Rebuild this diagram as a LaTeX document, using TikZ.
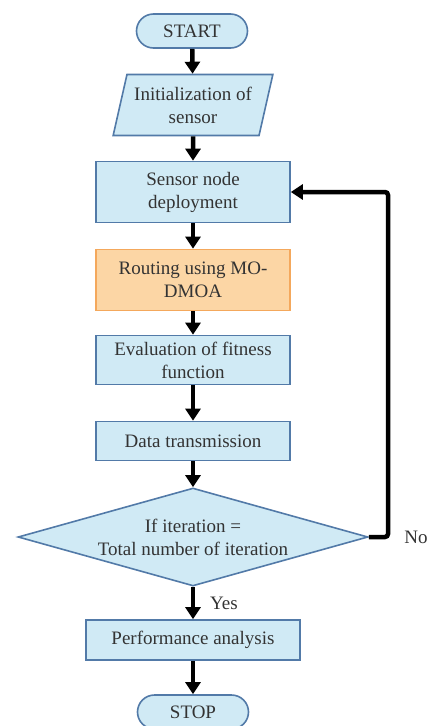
\documentclass[tikz,border=0pt]{standalone}
\usepackage{fontspec}
\setmainfont{Liberation Serif}
\usetikzlibrary{arrows.meta, positioning, shapes.geometric, calc}
\definecolor{flowFill}{RGB}{208, 234, 245}
\definecolor{flowEdge}{RGB}{82, 122, 168}
\definecolor{routeFill}{RGB}{252, 214, 165}
\definecolor{routeEdge}{RGB}{244, 168, 92}
\tikzset{
    flowText/.style={font=\fontsize{19}{23}\selectfont, text=black!80, align=center},
    flowBox/.style={flowText, draw=flowEdge, fill=flowFill, line width=1.6pt,
        minimum width=194pt, inner sep=2pt},
    routeBox/.style={flowBox, draw=routeEdge, fill=routeFill},
    terminal/.style={flowBox, minimum width=111pt, minimum height=34pt,
        rounded corners=17pt},
    inputBox/.style={flowText, trapezium, draw=flowEdge, fill=flowFill, line width=1.6pt,
        trapezium left angle=72, trapezium right angle=108, trapezium stretches=true,
        minimum width=160pt, minimum height=61pt, inner sep=1pt},
    decision/.style={flowText, diamond, draw=flowEdge, fill=flowFill, line width=1.6pt,
        shape aspect=3.57, minimum width=350pt, minimum height=98pt, inner sep=0pt},
    flowArrow/.style={line width=4.5pt, -{Triangle[width=15pt, length=12pt]}},
}

\begin{document}
\begin{tikzpicture}[x=1pt, y=-1pt]
    \useasboundingbox (0,0) rectangle (432,726);

    % MAIN COLUMN
    \node[terminal] (start) at (192, 31) {START};
    \node[inputBox] (init) at (193, 105) {Initialization of\\sensor};
    \node[flowBox, minimum height=61pt] (deploy) at (193, 192) {Sensor node\\deployment};
    \node[routeBox, minimum height=61pt] (route) at (193, 280) {Routing using MO-\\DMOA};
    \node[flowBox, minimum height=49pt] (fitness) at (193, 360) {Evaluation of fitness\\function};
    \node[flowBox, minimum height=39pt] (transmit) at (193, 441) {Data transmission};
    \node[decision] (decide) at (193, 537) {If iteration =\\Total number of iteration};
    \node[flowBox, minimum width=214pt, minimum height=40pt] (perf) at (193, 640) {Performance analysis};
    \node[terminal] (stop) at (193, 712) {STOP};

    \draw[flowArrow] (start) -- (init);
    \draw[flowArrow] (init) -- (deploy);
    \draw[flowArrow] (deploy) -- (route);
    \draw[flowArrow] (route) -- (fitness);
    \draw[flowArrow] (fitness) -- (transmit);
    \draw[flowArrow] (transmit) -- (decide);
    \draw[flowArrow] (decide) -- (perf);
    \draw[flowArrow] (perf) -- (stop);
    \node[flowText] (yesLabel) at (224, 603) {Yes};

    % LOOP BACK
    \coordinate (loopCorner) at (388, 537);
    \draw[flowArrow, rounded corners=3pt] (decide.east) -- (loopCorner) |- (deploy.east);
    \node[flowText] (noLabel) at (416, 537) {No};

\end{tikzpicture}
\end{document}
